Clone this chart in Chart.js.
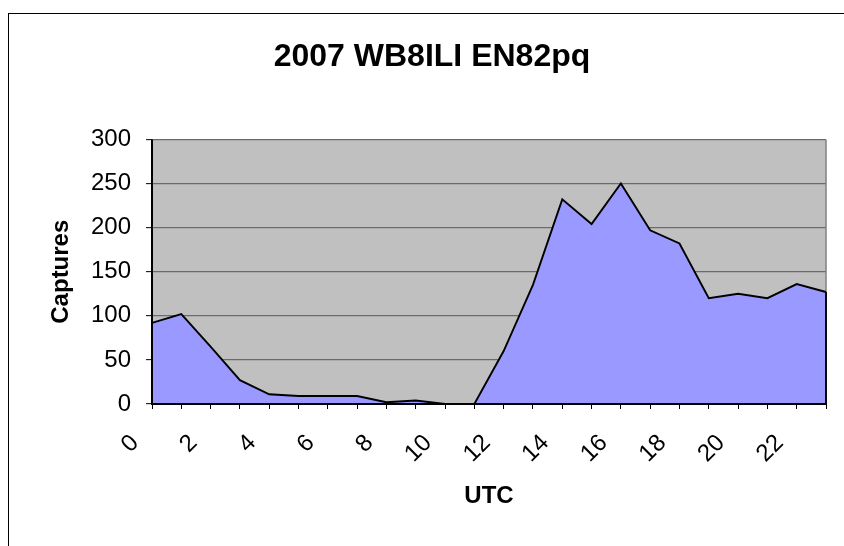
<!DOCTYPE html>
<html><head><meta charset="utf-8">
<script src="https://cdn.jsdelivr.net/npm/chart.js@4"></script>
<style>html,body{margin:0;padding:0;background:#fff}#wrap{width:844px;height:546px}</style>
</head><body><div id="wrap"><canvas id="c" width="844" height="546"></canvas></div>
<script>
const hours = ['0','1','2','3','4','5','6','7','8','9','10','11','12','13','14','15','16','17','18','19','20','21','22','23'];
const captures = [92,102,65,27,11,9,9,9,2,4,0,0,60,135,232,204,250,197,182,120,125,120,136,127];
const yTicks = [0,50,100,150,200,250,300];
const chartTitle = '2007 WB8ILI EN82pq';
const xTitle = 'UTC';
const yTitle = 'Captures';

const FONT = '"Liberation Sans", Arial, sans-serif';

const framePlugin = {
  id: 'frame',
  beforeDraw(chart) {
    const {ctx, chartArea: a} = chart;
    ctx.save();
    ctx.fillStyle = '#fff';
    ctx.fillRect(0, 0, chart.width, chart.height);
    ctx.strokeStyle = '#000';
    ctx.lineWidth = 1;
    ctx.strokeRect(8.5, 13.5, chart.width + 40, chart.height + 40);
    ctx.fillStyle = '#c0c0c0';
    ctx.fillRect(a.left, a.top, a.right - a.left, a.bottom - a.top);
    ctx.restore();
  },
  beforeDatasetsDraw(chart) {
    const {ctx, chartArea: a} = chart;
    ctx.save();
    ctx.strokeStyle = '#808080';
    ctx.lineWidth = 1.5;
    ctx.beginPath();
    ctx.moveTo(a.right, a.top);
    ctx.lineTo(a.right, a.bottom);
    ctx.stroke();
    ctx.restore();
  },
  afterDatasetsDraw(chart) {
    const {ctx, chartArea: a} = chart;
    const pts = chart.getDatasetMeta(0).data;
    const last = pts[pts.length - 1];
    ctx.save();
    ctx.strokeStyle = '#000';
    ctx.lineWidth = 1.9;
    ctx.beginPath();
    ctx.moveTo(last.x, last.y);
    ctx.lineTo(last.x, a.bottom);
    ctx.stroke();
    ctx.lineWidth = 2;
    ctx.beginPath();
    ctx.moveTo(a.left, a.top);
    ctx.lineTo(a.left, a.bottom);
    ctx.lineTo(a.right + 1, a.bottom);
    ctx.stroke();
    ctx.restore();
  }
};

new Chart(document.getElementById('c'), {
  type: 'line',
  data: {
    labels: hours,
    datasets: [{
      label: yTitle,
      data: captures,
      fill: 'origin',
      backgroundColor: '#9999ff',
      borderColor: '#000',
      borderWidth: 1.9,
      pointRadius: 0,
      tension: 0
    }]
  },
  options: {
    responsive: false,
    animation: false,
    layout: { padding: { left: 38, right: 18, top: 0, bottom: 0 } },
    plugins: {
      legend: { display: false },
      tooltip: { enabled: false },
      title: {
        display: true,
        text: chartTitle,
        color: '#000',
        font: { family: FONT, size: 32, weight: 'bold', lineHeight: 1.2 },
        padding: { top: 38, bottom: 63 }
      }
    },
    scales: {
      x: {
        type: 'category',
        offset: false,
        grid: { drawOnChartArea: false, drawTicks: true, tickLength: 5, tickColor: '#000', tickWidth: 1 },
        border: { display: false },
        ticks: {
          autoSkip: false,
          maxRotation: 45,
          minRotation: 45,
          padding: 20,
          labelOffset: -17,
          color: '#000',
          font: { family: FONT, size: 24 },
          callback: (v, i) => (i % 2 === 0 ? hours[i] : '')
        },
        title: {
          display: true,
          text: xTitle,
          color: '#000',
          font: { family: FONT, size: 24, weight: 'bold', lineHeight: 1.2 },
          padding: { top: 0, bottom: 35 }
        },
        afterFit(scale) { scale.height = 142; scale.paddingLeft = 0; scale.paddingRight = 0; }
      },
      y: {
        min: 0,
        max: 300,
        afterBuildTicks(scale) { scale.ticks = yTicks.map(v => ({ value: v })); },
        grid: { color: '#6b6b6b', lineWidth: 1.3, drawTicks: true, tickLength: 6, tickColor: '#000', tickWidth: 1 },
        border: { display: false },
        ticks: {
          padding: 15,
          color: '#000',
          font: { family: FONT, size: 24 }
        },
        title: {
          display: true,
          text: yTitle,
          color: '#000',
          font: { family: FONT, size: 24, weight: 'bold', lineHeight: 1.2 },
          padding: { top: 9, bottom: 0 }
        },
        afterFit(scale) { scale.width = 114; scale.paddingTop = 0; scale.paddingBottom = 0; }
      }
    }
  },
  plugins: [framePlugin]
});
</script>
</body></html>
